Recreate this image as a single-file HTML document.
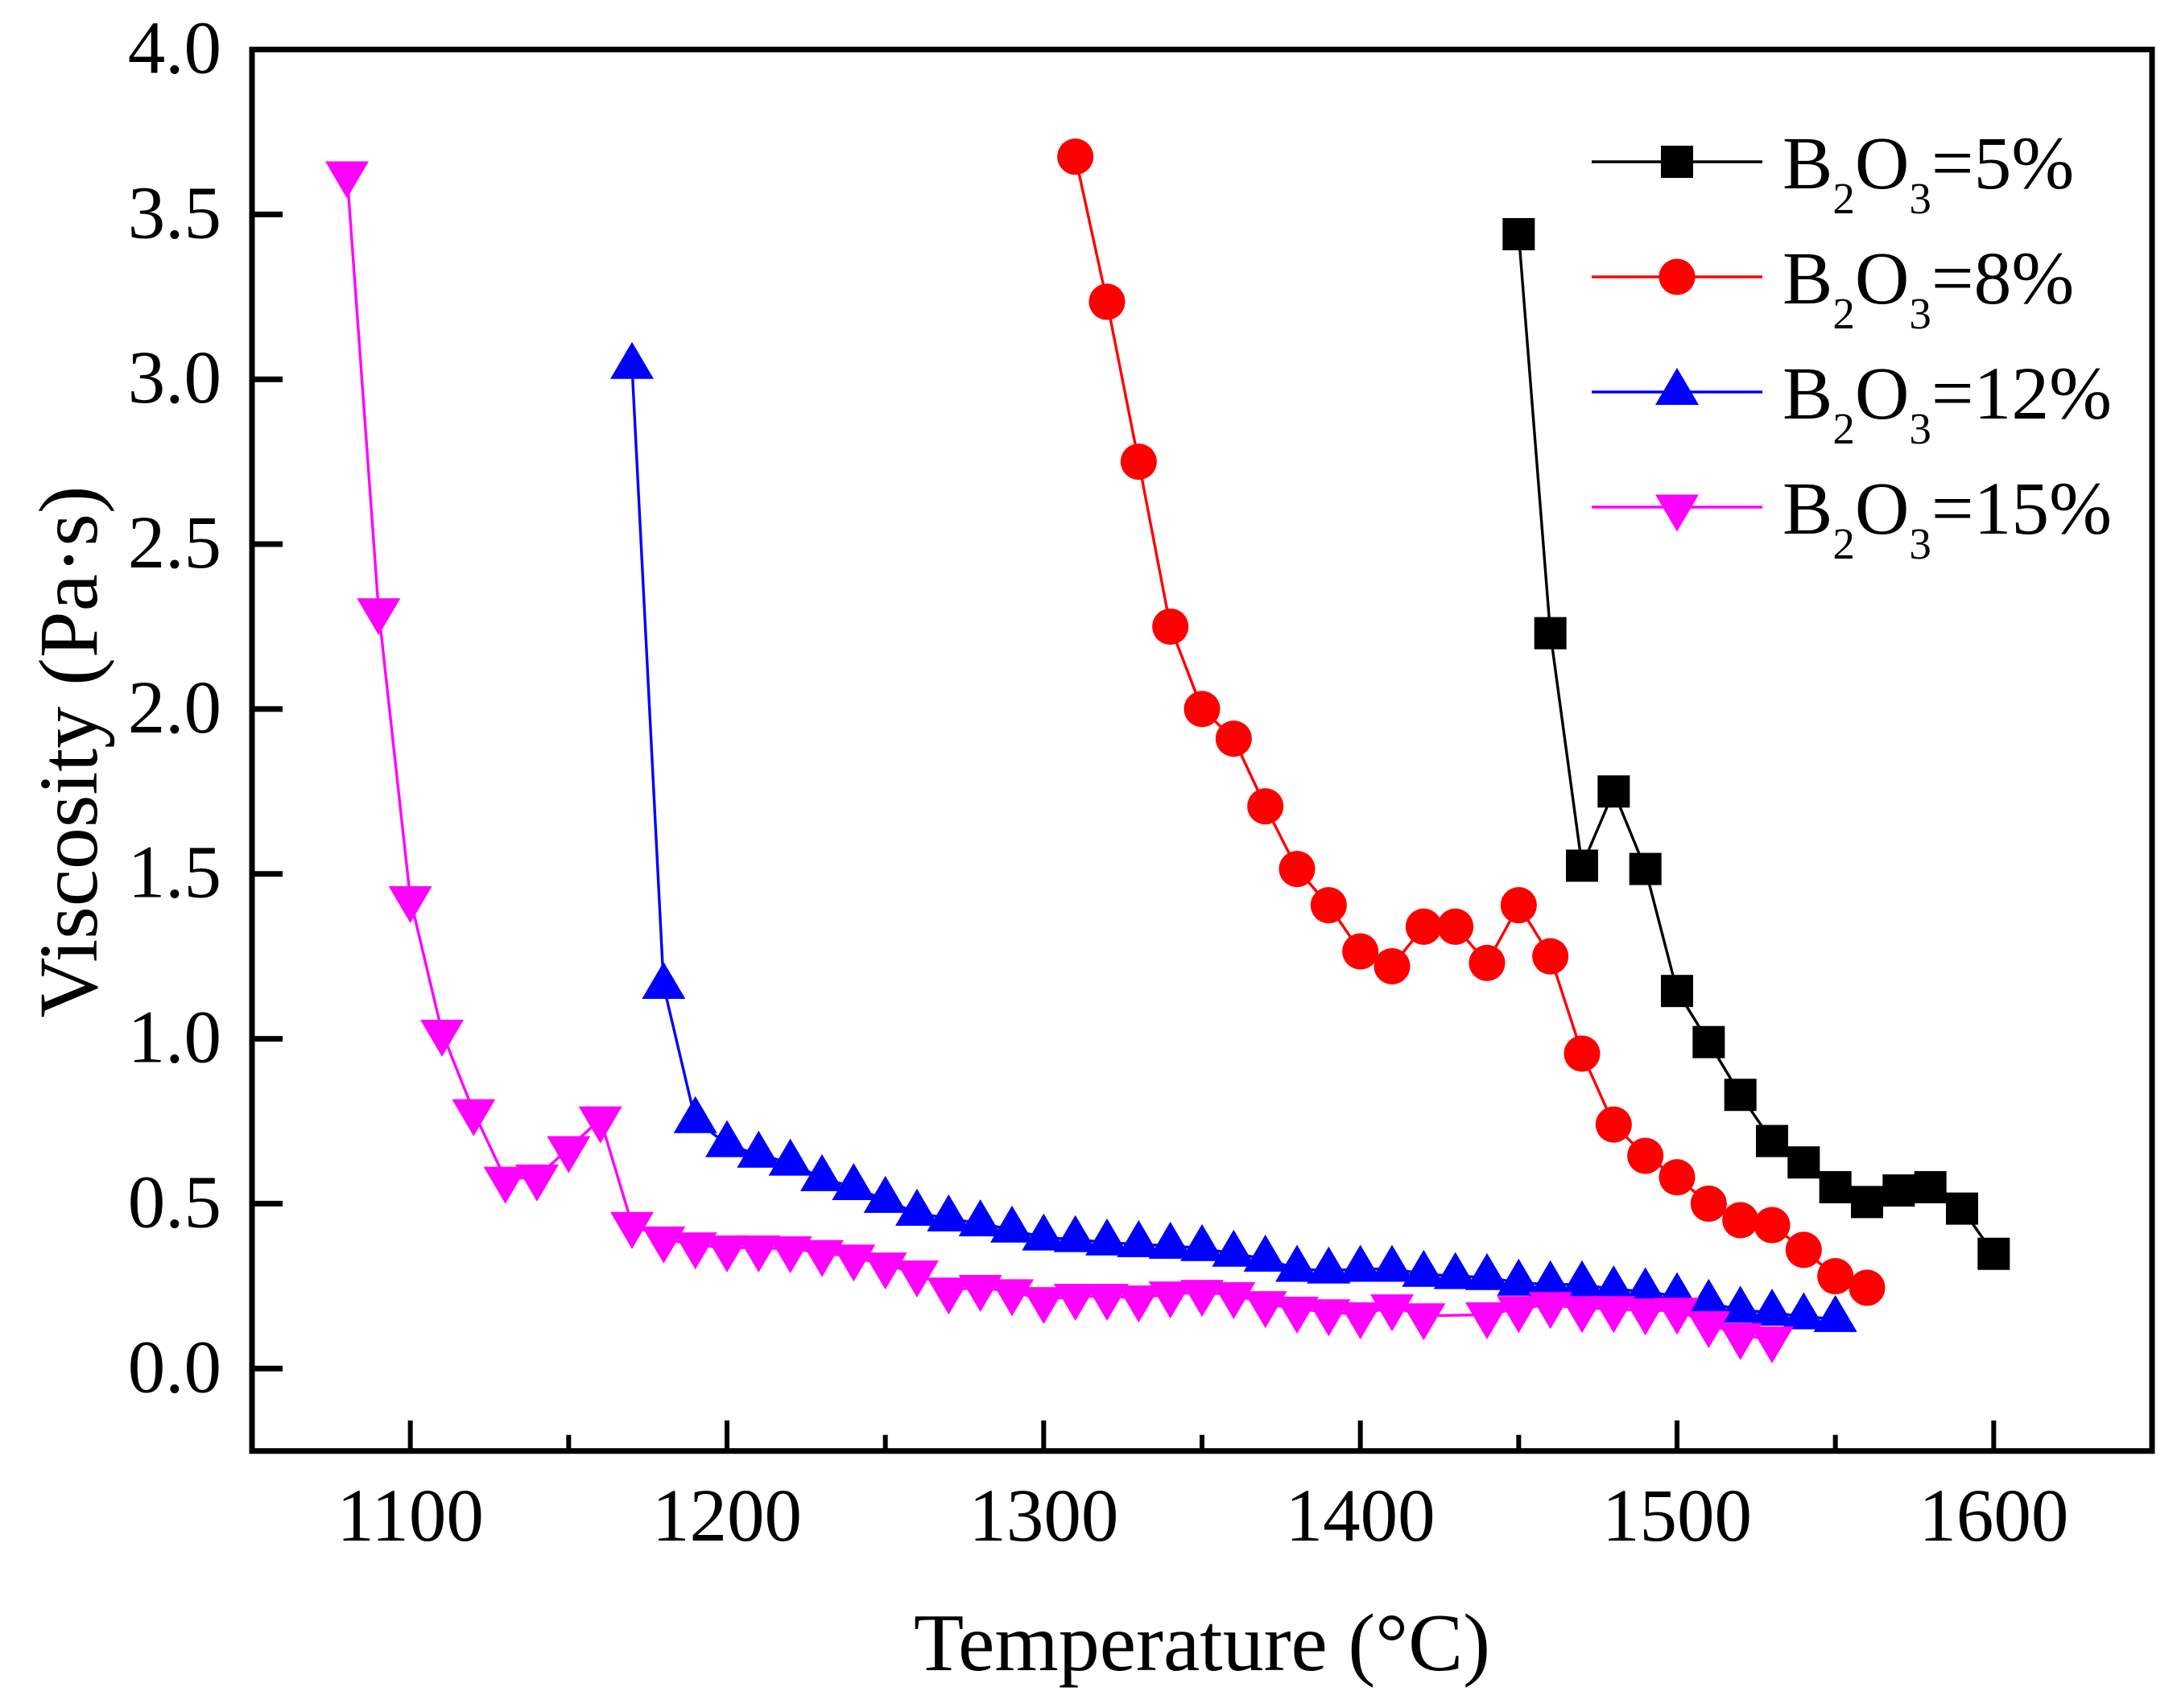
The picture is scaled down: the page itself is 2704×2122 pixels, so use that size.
<!DOCTYPE html>
<html>
<head>
<meta charset="utf-8">
<title>Viscosity vs Temperature</title>
<style>
html,body{margin:0;padding:0;background:#fff;}
svg{display:block;}
text{font-family:"Liberation Serif","Times New Roman",serif;fill:#000;}
</style>
</head>
<body>
<svg id="chart" xmlns="http://www.w3.org/2000/svg" width="2704" height="2122" viewBox="0 0 2704 2122">
  <rect x="0" y="0" width="2704" height="2122" fill="#fff"/>
  <g id="series-layer"></g>
  <g id="axis-layer"></g>
  <g id="legend-layer"></g>
  <text x="1493" y="2075" font-size="102" text-anchor="middle">Temperature (°C)</text>
  <text transform="translate(120 934) rotate(-90)" font-size="104" text-anchor="middle">Viscosity (Pa·s)</text>
</svg>
<script>
const xMajorTicks = [1100, 1200, 1300, 1400, 1500, 1600];
const xMinorTicks = [1150, 1250, 1350, 1450, 1550];
const yTickLabels = ["0.0", "0.5", "1.0", "1.5", "2.0", "2.5", "3.0", "3.5", "4.0"];

const temps5 = [1450,1460,1470,1480,1490,1500,1510,1520,1530,1540,1550,1560,1570,1580,1590,1600];
const visc5 = [3.44,2.23,1.525,1.75,1.515,1.145,0.99,0.83,0.69,0.625,0.55,0.505,0.54,0.55,0.485,0.348];

const temps8 = [1310,1320,1330,1340,1350,1360,1370,1380,1390,1400,1410,1420,1430,1440,1450,1460,1470,1480,1490,1500,1510,1520,1530,1540,1550,1560];
const visc8 = [3.675,3.235,2.75,2.25,2.0,1.91,1.705,1.515,1.405,1.265,1.22,1.34,1.34,1.23,1.405,1.25,0.955,0.74,0.645,0.58,0.5,0.45,0.435,0.36,0.28,0.245];

const temps12 = [1170,1180,1190,1200,1210,1220,1230,1240,1250,1260,1270,1280,1290,1300,1310,1320,1330,1340,1350,1360,1370,1380,1390,1400,1410,1420,1430,1440,1450,1460,1470,1480,1490,1500,1510,1520,1530,1540,1550];
const visc12 = [3.04,1.16,0.753,0.68,0.648,0.624,0.577,0.55,0.511,0.472,0.455,0.44,0.421,0.397,0.392,0.382,0.377,0.372,0.365,0.348,0.333,0.302,0.297,0.302,0.302,0.287,0.28,0.277,0.26,0.255,0.255,0.24,0.234,0.219,0.199,0.178,0.169,0.158,0.15];

const temps15 = [1080,1090,1100,1110,1120,1130,1140,1150,1160,1170,1180,1190,1200,1210,1220,1230,1240,1250,1260,1270,1280,1290,1300,1310,1320,1330,1340,1350,1360,1370,1380,1390,1400,1410,1420,1440,1450,1460,1470,1480,1490,1500,1510,1520,1530];
const visc15 = [3.623,2.298,1.425,1.02,0.779,0.574,0.581,0.667,0.757,0.437,0.393,0.375,0.366,0.366,0.363,0.352,0.338,0.314,0.29,0.238,0.246,0.233,0.209,0.219,0.219,0.214,0.226,0.231,0.224,0.197,0.18,0.172,0.163,0.187,0.16,0.163,0.182,0.194,0.182,0.182,0.175,0.177,0.136,0.1,0.09];

const NS = "http://www.w3.org/2000/svg";
const plot = {left: 313, right: 2673, top: 61.5, bottom: 1802.7};
const xDomain = [1050, 1650];
const yDomain = [-0.25, 4.0];

function xScale(t) {
  return plot.left + (t - xDomain[0]) / (xDomain[1] - xDomain[0]) * (plot.right - plot.left);
}
function yScale(v) {
  return plot.bottom - (v - yDomain[0]) / (yDomain[1] - yDomain[0]) * (plot.bottom - plot.top);
}
function make(tag, attrs, parent) {
  const el = document.createElementNS(NS, tag);
  for (const k in attrs) el.setAttribute(k, attrs[k]);
  parent.appendChild(el);
  return el;
}
function drawMarker(kind, cx, cy, color, parent) {
  let el;
  if (kind === "square") {
    el = make("rect", {x: cx - 20, y: cy - 20, width: 40, height: 40, fill: color}, parent);
  } else if (kind === "circle") {
    el = make("circle", {cx: cx, cy: cy, r: 22.5, fill: color}, parent);
  } else if (kind === "up") {
    el = make("polygon", {points: (cx - 27) + "," + (cy + 16) + " " + (cx + 27) + "," + (cy + 16) + " " + cx + "," + (cy - 30), fill: color}, parent);
  } else {
    el = make("polygon", {points: (cx - 27) + "," + (cy - 15.5) + " " + (cx + 27) + "," + (cy - 15.5) + " " + cx + "," + (cy + 30.5), fill: color}, parent);
  }
  
  
  return el;
}
function drawSeries(name, temps, values, color, kind) {
  const layer = document.getElementById("series-layer");
  const g = make("g", {}, layer);
  
  
  const pts = temps.map(function (t, i) { return xScale(t) + "," + yScale(values[i]); }).join(" ");
  const line = make("polyline", {points: pts, fill: "none", stroke: color, "stroke-width": 3.4, "stroke-linejoin": "round"}, g);
  
  
  temps.forEach(function (t, i) {
    drawMarker(kind, xScale(t), yScale(values[i]), color, g);
  });
}
function drawAxes() {
  const layer = document.getElementById("axis-layer");
  const frame = make("rect", {x: plot.left, y: plot.top, width: plot.right - plot.left, height: plot.bottom - plot.top, fill: "none", stroke: "#000", "stroke-width": 7}, layer);
  
  
  xMajorTicks.forEach(function (t) {
    const x = xScale(t);
    const tick = make("line", {x1: x, x2: x, y1: plot.bottom, y2: plot.bottom - 38, stroke: "#000", "stroke-width": 6}, layer);
    
    
    const label = make("text", {x: x, y: 1914, "font-size": 93, "text-anchor": "middle"}, layer);
    
    
    label.textContent = String(t);
  });
  xMinorTicks.forEach(function (t) {
    const x = xScale(t);
    const tick = make("line", {x1: x, x2: x, y1: plot.bottom, y2: plot.bottom - 20, stroke: "#000", "stroke-width": 6}, layer);
    
    
  });
  yTickLabels.forEach(function (s) {
    const y = yScale(parseFloat(s));
    const tick = make("line", {x1: plot.left, x2: plot.left + 38, y1: y, y2: y, stroke: "#000", "stroke-width": 7}, layer);
    
    
    const label = make("text", {x: 275, y: y + 29, "font-size": 93, "text-anchor": "end"}, layer);
    
    
    label.textContent = s;
  });
}
function drawLegendEntry(percent, y, color, kind) {
  const layer = document.getElementById("legend-layer");
  const g = make("g", {}, layer);
  
  
  const line = make("line", {x1: 1977, x2: 2189, y1: y, y2: y, stroke: color, "stroke-width": 3.4}, g);
  
  
  drawMarker(kind, 2083, y, color, g);
  const text = make("text", {x: 2214, y: y + 33, "font-size": 93.5}, g);
  
  
  text.appendChild(document.createTextNode("B"));
  const sub2 = make("tspan", {"font-size": 55, dy: 31}, text);
  sub2.textContent = "2";
  const o = make("tspan", {dy: -31}, text);
  o.textContent = "O";
  const sub3 = make("tspan", {"font-size": 55, dy: 31}, text);
  sub3.textContent = "3";
  const rest = make("tspan", {dy: -31}, text);
  rest.textContent = "=" + percent + "%";
}

drawSeries("series-b2o3-5", temps5, visc5, "#000000", "square");
drawSeries("series-b2o3-8", temps8, visc8, "#ff0000", "circle");
drawSeries("series-b2o3-12", temps12, visc12, "#0000ff", "up");
drawSeries("series-b2o3-15", temps15, visc15, "#ff00ff", "down");
drawAxes();
drawLegendEntry("5", 201, "#000000", "square");
drawLegendEntry("8", 344, "#ff0000", "circle");
drawLegendEntry("12", 487, "#0000ff", "up");
drawLegendEntry("15", 630, "#ff00ff", "down");
</script>
</body>
</html>
